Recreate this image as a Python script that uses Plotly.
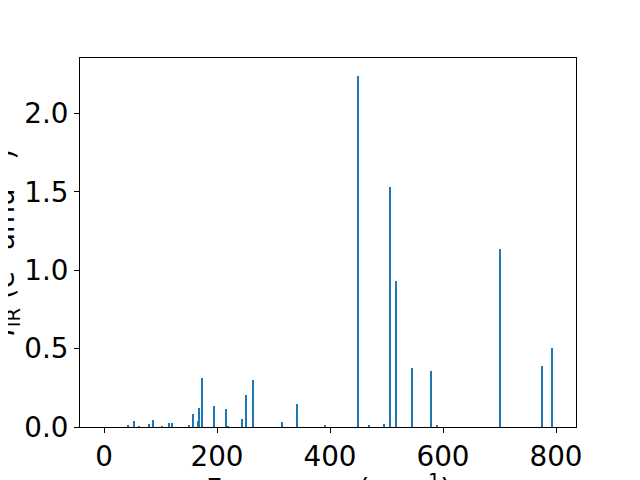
import plotly.graph_objects as go

freqs = [43, 52.5, 62.5, 80, 87, 103, 115.5, 121, 151, 158, 167, 169, 174, 195,
         216.5, 220, 244, 252, 264, 315.5, 342, 392, 450, 468.5, 495, 507, 517,
         545.5, 579, 590, 701, 776, 793.5]
intensities = [0.013, 0.038, 0.006, 0.019, 0.045, 0.006, 0.025, 0.025, 0.013, 0.083,
               0.038, 0.121, 0.312, 0.134, 0.115, 0.006, 0.051, 0.204, 0.300, 0.032,
               0.147, 0.013, 2.242, 0.013, 0.020, 1.529, 0.930, 0.378, 0.358, 0.013,
               1.134, 0.389, 0.505]
bar_width = 2.0

x_ticks = [0, 200, 400, 600, 800]
y_ticks = [0.0, 0.5, 1.0, 1.5, 2.0]
x_title = "Frequency (cm<sup>−1</sup>)"
y_title = "<i>I</i><sub>IR</sub> (e<sup>2</sup> amu<sup>−1</sup>)"

FONT = "DejaVu Sans"
FS = 27.8

fig = go.Figure(go.Bar(
    x=freqs, y=intensities, width=[bar_width] * len(freqs),
    marker=dict(color="#1f77b4", line=dict(width=0)),
))

axis_common = dict(
    showline=True, linecolor="black", linewidth=1, mirror=True,
    showgrid=False, zeroline=False, ticks="outside", ticklen=5, tickwidth=1,
    tickcolor="black", tickfont=dict(family=FONT, size=FS, color="black"),
    automargin=False,
)

fig.update_layout(
    width=640, height=480,
    margin=dict(l=72, r=72, t=50, b=61, autoexpand=False),
    paper_bgcolor="white", plot_bgcolor="white",
    showlegend=False, bargap=0,
    xaxis=dict(range=[-42.5, 835.4], tickvals=x_ticks,
               ticktext=[str(v) for v in x_ticks], **axis_common),
    yaxis=dict(range=[0, 2.354], tickvals=y_ticks,
               ticktext=[f"{v:.1f}" for v in y_ticks], **axis_common),
    annotations=[
        dict(text=x_title, xref="paper", yref="paper", x=0.5, y=0,
             xanchor="center", yanchor="top", yshift=-40, showarrow=False,
             font=dict(family=FONT, size=FS, color="black")),
        dict(text=y_title, xref="paper", yref="paper", x=0, y=0.5,
             xanchor="center", yanchor="middle", xshift=-75, textangle=-90,
             showarrow=False, font=dict(family=FONT, size=FS, color="black")),
    ],
)

fig.write_html("out.html")
